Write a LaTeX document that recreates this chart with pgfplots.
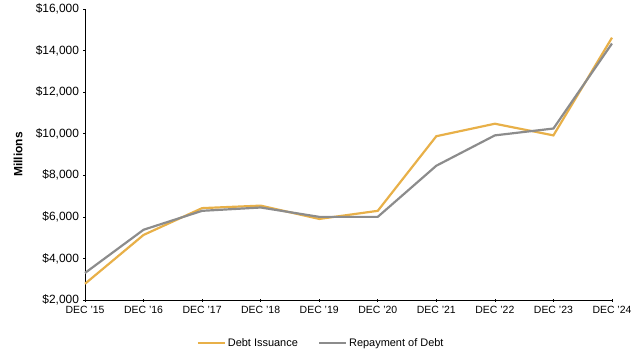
\documentclass[border=0pt]{standalone}
\usepackage{pgfplots}
\pgfplotsset{compat=1.18}
\usepackage{fontspec}
\setmainfont{Liberation Sans}
\definecolor{gold}{RGB}{232,176,72}
\definecolor{grayline}{RGB}{140,140,140}
\begin{document}
\begin{tikzpicture}
\begin{axis}[
  scale only axis,
  width=527bp, height=291bp,
  xmin=0, xmax=9, ymin=2000, ymax=16000,
  xtick={0,...,9},
  xticklabels={DEC '15,DEC '16,DEC '17,DEC '18,DEC '19,DEC '20,DEC '21,DEC '22,DEC '23,DEC '24},
  ytick={2000,4000,...,16000},
  scaled y ticks=false,
  yticklabel={\$\pgfmathprintnumber{\tick}},
  /pgf/number format/.cd, fixed, 1000 sep={,}, assume math mode=true, /pgfplots/.cd,
  axis x line*=bottom, axis y line*=left,
  axis line style={black, line width=0.8pt, -},
  tick style={black, line width=0.6pt},
  major tick length=3bp,
  tick align=center,
  xticklabel style={font=\fontsize{10.5}{12}\selectfont, yshift=-1bp},
  yticklabel style={font=\fontsize{12}{14}\selectfont, xshift=-1bp},
  ylabel={\textbf{Millions}},
  ylabel style={font=\fontsize{12}{14}\selectfont, at={(axis description cs:0,0.5)}, anchor=center, yshift=67bp},
  legend style={draw=none, at={(0.448,-0.148)}, anchor=center, font=\fontsize{11}{13}\selectfont, legend columns=2, inner sep=0pt, /tikz/every even column/.append style={column sep=18bp}},
  legend image code/.code={\draw[#1, line width=2.2pt] (0bp,0bp) -- (27bp,0bp);},
  clip=false,
]
\addplot[gold, line width=2.2pt] coordinates {(0,2780) (1,5130) (2,6420) (3,6540) (4,5900) (5,6290) (6,9880) (7,10480) (8,9920) (9,14620)};
\addlegendentry{Debt Issuance}
\addplot[grayline, line width=2.2pt] coordinates {(0,3300) (1,5380) (2,6290) (3,6450) (4,6000) (5,6000) (6,8460) (7,9920) (8,10250) (9,14340)};
\addlegendentry{Repayment of Debt}
\path (rel axis cs:0,0) ++(-85bp,-58bp) coordinate (bbA);
\path (rel axis cs:0,0) ++(555bp,300bp) coordinate (bbB);
\end{axis}
\end{tikzpicture}
\end{document}
